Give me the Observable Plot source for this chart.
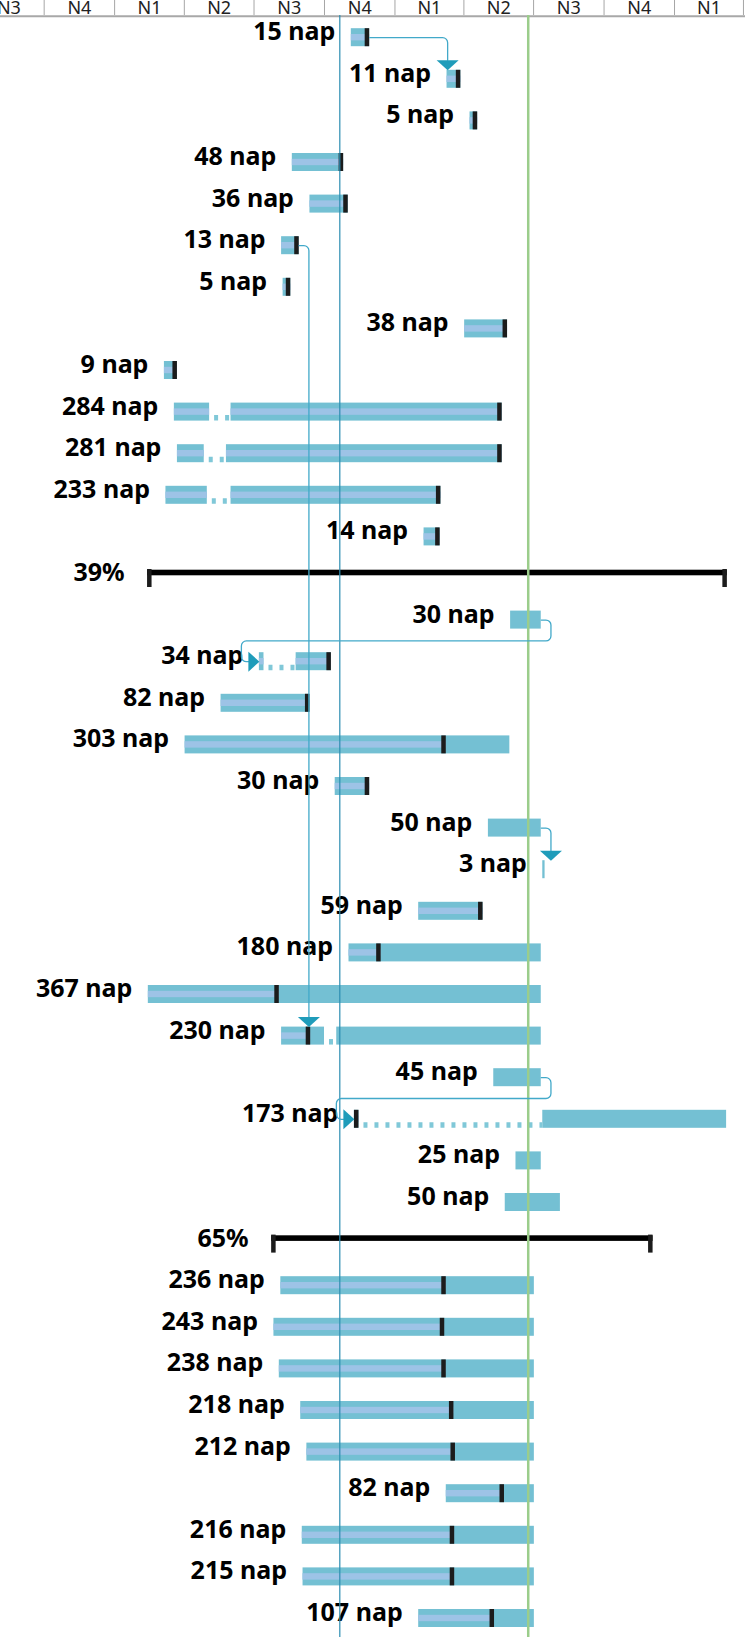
<!DOCTYPE html>
<html>
<head>
<meta charset="utf-8">
<script src="https://cdn.jsdelivr.net/npm/d3@7"></script>
<script src="https://cdn.jsdelivr.net/npm/@observablehq/plot@0.6"></script>
<style>
html, body { margin: 0; padding: 0; background: #fff; }
#chart svg { display: block; }
</style>
</head>
<body>
<div id="chart"></div>
<script>
// ---------- DATA ----------
const labels = ["15 nap","11 nap","5 nap","48 nap","36 nap","13 nap","5 nap","38 nap","9 nap","284 nap","281 nap","233 nap","14 nap","39%","30 nap","34 nap","82 nap","303 nap","30 nap","50 nap","3 nap","59 nap","180 nap","367 nap","230 nap","45 nap","173 nap","25 nap","50 nap","65%","236 nap","243 nap","238 nap","218 nap","212 nap","82 nap","216 nap","215 nap","107 nap"];

const starts = ["2020-11-05","2021-03-10","2021-04-09","2020-08-20","2020-09-12","2020-08-06","2020-08-08","2021-04-02","2020-03-06","2020-03-19","2020-03-23","2020-03-08","2021-02-08","2020-02-13","2021-06-01","2020-07-08","2020-05-19","2020-04-02","2020-10-15","2021-05-03","2021-07-13","2021-02-01","2020-11-02","2020-02-14","2020-08-06","2021-05-10","2020-11-09","2021-06-08","2021-05-25","2020-07-24","2020-08-05","2020-07-27","2020-08-03","2020-08-31","2020-09-08","2021-03-09","2020-09-02","2020-09-03","2021-02-01"];

const ends = ["2020-11-29","2021-03-28","2021-04-19","2020-10-26","2020-11-01","2020-08-29","2020-08-18","2021-05-28","2020-03-23","2021-05-21","2021-05-21","2021-03-02","2021-03-01","2022-03-11","2021-07-11","2020-10-10","2020-09-12","2021-05-31","2020-11-29","2021-07-11","2021-07-16","2021-04-26","2021-07-11","2021-07-11","2021-07-11","2021-07-11","2022-03-10","2021-07-11","2021-08-05","2021-12-04","2021-07-02","2021-07-02","2021-07-02","2021-07-02","2021-07-02","2021-07-02","2021-07-02","2021-07-02","2021-07-02"];

// end of completed work (null = not started)
const progress = ["2020-11-29","2021-03-28","2021-04-19","2020-10-26","2020-11-01","2020-08-29","2020-08-18","2021-05-28","2020-03-23","2021-05-21","2021-05-21","2021-03-02","2021-03-01",null,null,"2020-10-10","2020-09-12","2021-03-09","2020-11-29",null,null,"2021-04-26","2020-12-14","2020-08-03","2020-09-13",null,"2020-11-15",null,null,null,"2021-03-09","2021-03-07","2021-03-09","2021-03-19","2021-03-21","2021-05-24","2021-03-20","2021-03-20","2021-05-11"];

const summaryRows = [13, 29];

// split (interrupted) tasks
const splitRows = [9, 10, 11, 15, 24, 26];
const splitGapStarts = ["2020-05-04","2020-04-27","2020-05-01","2020-07-14","2020-10-01","2020-11-15"];
const splitGapEnds = ["2020-06-01","2020-05-26","2020-06-01","2020-08-25","2020-10-17","2021-07-13"];

// dependency links
const linkFrom = [0, 5, 14, 19, 25];
const linkTo = [1, 24, 15, 20, 26];
const linkType = ["down", "down", "around", "down", "around"];

// timescale
const quarterStarts = ["2019-07-01","2019-10-01","2020-01-01","2020-04-01","2020-07-01","2020-10-01","2021-01-01","2021-04-01","2021-07-01","2021-10-01","2022-01-01","2022-04-01"];
const quarterLabels = ["N3","N4","N1","N2","N3","N4","N1","N2","N3","N4","N1"];
const viewStart = "2019-08-05T00:00:00Z";
const viewEnd = "2022-04-03T16:00:00Z";
const currentDate = "2020-10-21";
const statusDate = "2021-06-24";

// ---------- BUILD ----------
const W = 745, H = 1637;
const ROW = 41.6, TOP = 16.4, NROWS = labels.length;
const FONT = "'Noto Sans', 'Open Sans', sans-serif";
const parse = s => new Date(s.length > 10 ? s : s + "T00:00:00Z");
const x0 = parse(viewStart), x1 = parse(viewEnd);
const msPerPx = (x1 - x0) / W;
const shift = (d, px) => new Date(+d + px * msPerPx);
const pxRows = px => px / ROW;
const yAtPx = px => (px - TOP) / ROW;

const tasks = labels.map((label, i) => ({
  row: i, label,
  start: parse(starts[i]), end: parse(ends[i]),
  p: progress[i] ? parse(progress[i]) : null,
  summary: summaryRows.includes(i)
}));

const segments = [], stripes = [], gaps = [];
tasks.filter(t => !t.summary).forEach(t => {
  const k = splitRows.indexOf(t.row);
  let segs;
  if (k >= 0) {
    const gs = parse(splitGapStarts[k]), ge = parse(splitGapEnds[k]);
    segs = [[t.start, gs], [ge, t.end]];
    gaps.push({row: t.row, s: gs, e: ge});
  } else segs = [[t.start, t.end]];
  segs.forEach(([s, e]) => {
    segments.push({row: t.row, s, e});
    if (t.p && t.p > s) stripes.push({row: t.row, s, e: t.p < e ? t.p : e});
  });
});

const markers = tasks.filter(t => !t.summary && t.p);
const summaries = tasks.filter(t => t.summary);

// connectors
const linkPts = [], downArrows = [], rightArrows = [];
linkFrom.forEach((a, k) => {
  const b = linkTo[k], A = tasks[a], B = tasks[b];
  const ya = a + 0.5, yb = b + 0.5;
  if (linkType[k] === "down") {
    const X = new Date(Math.max(+shift(A.end, 9.7), +shift(B.start, 0.6)));
    [[A.end, ya], [X, ya], [X, yb - pxRows(19)]].forEach(([x, y]) => linkPts.push({k, x, y}));
    downArrows.push({x: X, y: yb});
  } else {
    const xr = shift(A.end, 9.7), xl = shift(B.start, -18);
    [[A.end, ya], [xr, ya], [xr, a + 1], [xl, a + 1], [xl, yb], [shift(B.start, -10), yb]]
      .forEach(([x, y]) => linkPts.push({k, x, y}));
    rightArrows.push({x: B.start, y: yb});
  }
});

function roundedCurve(context) {
  let pts = [];
  return {
    areaStart() {}, areaEnd() {},
    lineStart() { pts = []; },
    point(x, y) { pts.push([+x, +y]); },
    lineEnd() {
      if (!pts.length) return;
      const r = 5;
      context.moveTo(pts[0][0], pts[0][1]);
      for (let i = 1; i < pts.length - 1; i++) context.arcTo(pts[i][0], pts[i][1], pts[i + 1][0], pts[i + 1][1], r);
      const l = pts[pts.length - 1];
      context.lineTo(l[0], l[1]);
    }
  };
}
const downTri = {draw(ctx) { ctx.moveTo(-11, -5); ctx.lineTo(11, -5); ctx.lineTo(0, 5); ctx.closePath(); }};
const rightTri = {draw(ctx) { ctx.moveTo(-5.5, -10); ctx.lineTo(5.5, 0); ctx.lineTo(-5.5, 10); ctx.closePath(); }};

const qDates = quarterStarts.map(parse);
const quarters = quarterLabels.map((label, i) => ({label, mid: new Date((+qDates[i] + +qDates[i + 1]) / 2)}));

const BAR = "#74c0d3", STRIPE = "#9dc3e6", MARK = "#1c1c1c", LINK = "#42a9c9";
const barInset = (ROW - 18) / 2;

const chart = Plot.plot({
  width: W, height: H,
  marginTop: 15, marginBottom: 0, marginLeft: 0, marginRight: 0,
  style: {fontFamily: FONT, background: "#fff"},
  x: {type: "utc", domain: [x0, x1], range: [0, W], axis: null},
  y: {type: "linear", domain: [0, NROWS], range: [TOP, TOP + NROWS * ROW], axis: null},
  marks: [
    // header (quarter timescale)
    Plot.ruleX(qDates, {x: d => d, y1: yAtPx(0), y2: yAtPx(15), stroke: "#a6a6a6", strokeWidth: 1}),
    Plot.text(quarters, {x: "mid", text: "label", frameAnchor: "top", lineAnchor: "bottom", dy: -2, fontSize: 18, fill: "#222", fontFamily: FONT}),
    Plot.ruleY([yAtPx(15.8)], {stroke: "#a8a8a8", strokeWidth: 2}),
    // bars
    Plot.rect(segments, {x1: "s", x2: "e", y1: "row", y2: d => d.row + 1, insetTop: barInset, insetBottom: barInset, fill: BAR}),
    Plot.rect(stripes, {x1: "s", x2: "e", y1: "row", y2: d => d.row + 1, insetTop: (ROW - 6.4) / 2, insetBottom: (ROW - 6.4) / 2, fill: STRIPE}),
    Plot.ruleY(gaps, {y: d => d.row + 0.5, x1: "s", x2: "e", dy: 5.7, strokeWidth: 5.5, stroke: "#80c8d8", strokeDasharray: "4 7", strokeDashoffset: -5}),
    Plot.rect(markers, {x1: "p", x2: "p", y1: "row", y2: d => d.row + 1, insetTop: barInset, insetBottom: barInset, insetLeft: -4.5, fill: MARK}),
    // summaries
    Plot.rect(summaries, {x1: "start", x2: "end", y1: "row", y2: d => d.row + 1, insetTop: ROW / 2 - 8.3, insetBottom: ROW / 2 + 2.7, fill: "#000"}),
    Plot.rect(summaries, {x1: "start", x2: "start", y1: "row", y2: d => d.row + 1, insetTop: barInset, insetBottom: barInset, insetRight: -4.5, fill: MARK}),
    Plot.rect(summaries, {x1: "end", x2: "end", y1: "row", y2: d => d.row + 1, insetTop: barInset, insetBottom: barInset, insetLeft: -4.5, fill: MARK}),
    // labels
    Plot.text(tasks.filter(t => !t.summary), {x: "start", y: d => d.row + 0.5, text: "label", textAnchor: "end", dx: -16, dy: -5.5, fontSize: 25, fontWeight: "bold", fill: "#000", fontFamily: FONT}),
    Plot.text(summaries, {x: "start", y: d => d.row + 0.5, text: "label", textAnchor: "end", dx: -23, dy: -5.5, fontSize: 25, fontWeight: "bold", fill: "#000", fontFamily: FONT}),
    // date lines
    Plot.ruleX([parse(currentDate)], {stroke: "#2b8db1", strokeWidth: 1.2}),
    Plot.ruleX([parse(statusDate)], {stroke: "#9bcd8b", strokeWidth: 2.5}),
    // links
    Plot.line(linkPts, {x: "x", y: "y", z: "k", curve: roundedCurve, stroke: LINK, strokeWidth: 1.3}),
    Plot.dot(downArrows, {x: "x", y: "y", dy: -14, symbol: downTri, fill: "#1f9cba", stroke: "none"}),
    Plot.dot(rightArrows, {x: "x", y: "y", dx: -5.5, symbol: rightTri, fill: "#1f9cba", stroke: "none"})
  ]
});
document.getElementById("chart").appendChild(chart);
</script>
</body>
</html>
